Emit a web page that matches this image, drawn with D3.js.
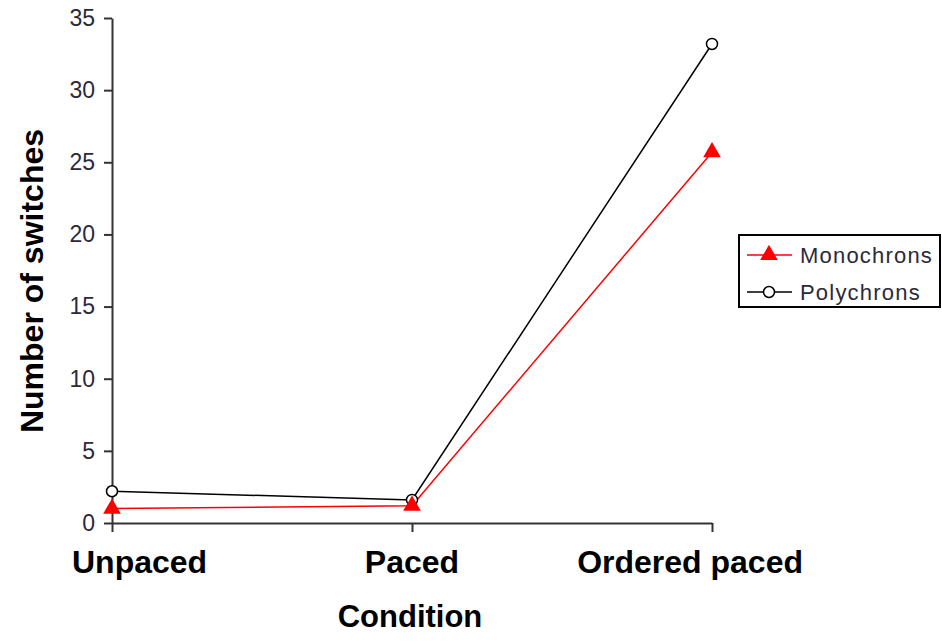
<!DOCTYPE html>
<html>
<head>
<meta charset="utf-8">
<script src="https://cdn.jsdelivr.net/npm/d3@7"></script>
<style>
  body { margin: 0; background: #fff; }
  svg { font-family: "Liberation Sans", Arial, sans-serif; }
</style>
</head>
<body>
<svg width="942" height="644"></svg>
<script>
const conditions = ["Unpaced", "Paced", "Ordered paced"];
const monochrons = [1.0, 1.2, 25.7];
const polychrons = [2.2, 1.6, 33.2];
const yTicks = [0, 5, 10, 15, 20, 25, 30, 35];

const svg = d3.select("svg");

const x = d3.scalePoint().domain(conditions).range([112, 712]);
const y = d3.scaleLinear().domain([0, 35]).range([523, 18]);

// y axis
const yAxis = svg.append("g")
  .attr("transform", "translate(112,0)")
  .call(d3.axisLeft(y).tickValues(yTicks).tickSize(8).tickSizeOuter(0).tickPadding(9));
yAxis.select(".domain").attr("stroke", "#333").attr("stroke-width", 2);
yAxis.selectAll(".tick line").attr("stroke", "#333").attr("stroke-width", 2);
yAxis.selectAll(".tick text")
  .attr("font-size", 23)
  .attr("fill", "#2a2a3a")
  .attr("font-family", "Liberation Sans, Arial, sans-serif");

// x axis
const xAxis = svg.append("g")
  .attr("transform", "translate(0,523)")
  .call(d3.axisBottom(x).tickSize(9).tickSizeOuter(0).tickFormat(""));
xAxis.select(".domain").attr("stroke", "#333").attr("stroke-width", 2);
xAxis.selectAll(".tick line").attr("stroke", "#333").attr("stroke-width", 2);

// category labels, kept inside 72..803 like the original
const catLabels = svg.append("g").selectAll("text")
  .data(conditions)
  .join("text")
  .attr("y", 573)
  .attr("font-size", 32)
  .attr("font-weight", "bold")
  .attr("fill", "#000")
  .attr("text-anchor", "start")
  .text(d => d);
catLabels.attr("x", function(d) {
  const w = this.getComputedTextLength();
  let left = x(d) - w / 2;
  left = Math.max(left, 72);
  left = Math.min(left, 803 - w);
  return left;
});

// axis titles
svg.append("text")
  .attr("x", 410)
  .attr("y", 627)
  .attr("text-anchor", "middle")
  .attr("font-size", 31)
  .attr("font-weight", "bold")
  .text("Condition");

svg.append("text")
  .attr("transform", "translate(43,281) rotate(-90)")
  .attr("text-anchor", "middle")
  .attr("font-size", 32)
  .attr("font-weight", "bold")
  .text("Number of switches");

// lines
const line = d3.line()
  .x((d, i) => x(conditions[i]))
  .y(d => y(d));

svg.append("path")
  .datum(polychrons)
  .attr("fill", "none")
  .attr("stroke", "#000")
  .attr("stroke-width", 1.5)
  .attr("d", line);

svg.append("path")
  .datum(monochrons)
  .attr("fill", "none")
  .attr("stroke", "#ff0000")
  .attr("stroke-width", 1.5)
  .attr("d", line);

const tri = d3.symbol().type(d3.symbolTriangle).size(135);

svg.append("g").selectAll("circle")
  .data(polychrons)
  .join("circle")
  .attr("cx", (d, i) => x(conditions[i]))
  .attr("cy", d => y(d))
  .attr("r", 5.5)
  .attr("fill", "#fff")
  .attr("stroke", "#000")
  .attr("stroke-width", 1.5);

svg.append("g").selectAll("path")
  .data(monochrons)
  .join("path")
  .attr("d", tri)
  .attr("transform", (d, i) => `translate(${x(conditions[i])},${y(d)})`)
  .attr("fill", "#ff0000");

// legend
const legend = svg.append("g").attr("transform", "translate(739,235)");
legend.append("rect")
  .attr("width", 201)
  .attr("height", 72)
  .attr("fill", "#fff")
  .attr("stroke", "#000")
  .attr("stroke-width", 2);

const items = [
  {name: "Monochrons", color: "#ff0000", marker: "triangle"},
  {name: "Polychrons", color: "#000", marker: "circle"}
];

const row = legend.selectAll("g.item")
  .data(items)
  .join("g")
  .attr("class", "item")
  .attr("transform", (d, i) => `translate(0,${20 + i * 37})`);

row.append("line")
  .attr("x1", 8).attr("x2", 53)
  .attr("stroke", d => d.color)
  .attr("stroke-width", 1.5);

row.filter(d => d.marker === "triangle").append("path")
  .attr("d", tri)
  .attr("transform", "translate(30,0)")
  .attr("fill", "#ff0000");

row.filter(d => d.marker === "circle").append("circle")
  .attr("cx", 30)
  .attr("r", 5.5)
  .attr("fill", "#fff")
  .attr("stroke", "#000")
  .attr("stroke-width", 1.5);

row.append("text")
  .attr("x", 61)
  .attr("dy", "0.35em")
  .attr("font-size", 22)
  .attr("letter-spacing", 1.2)
  .attr("fill", "#2a2a3a")
  .text(d => d.name);
</script>
</body>
</html>
